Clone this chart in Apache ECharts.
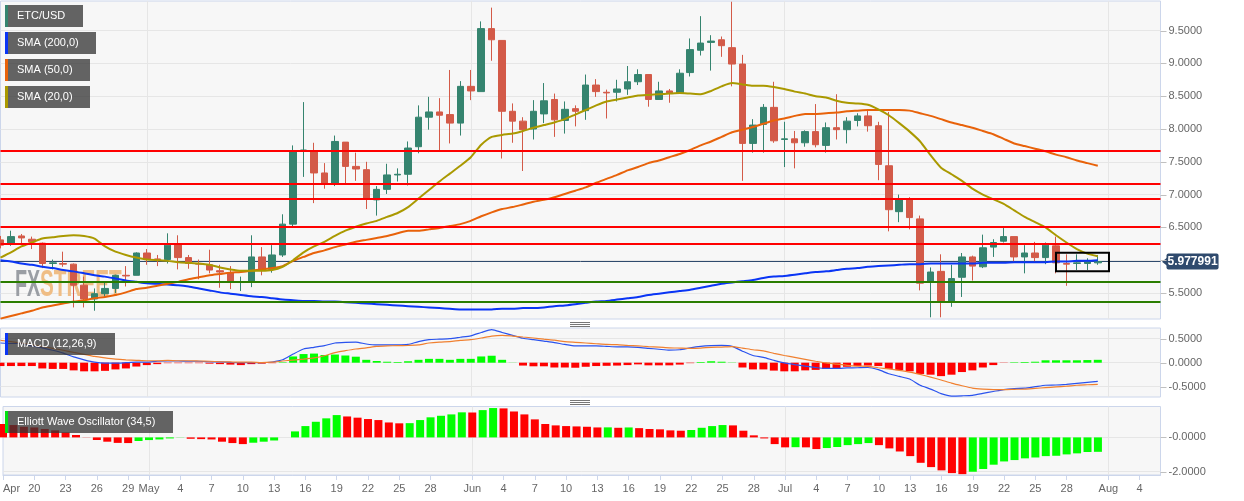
<!DOCTYPE html>
<html>
<head>
<meta charset="utf-8">
<title>ETC/USD</title>
<script src="https://cdn.jsdelivr.net/npm/echarts@6/dist/echarts.min.js"></script>
<style>
    html, body { margin: 0; padding: 0; background: #fff; }
    #mainChart { width: 1244px; height: 501px; }
</style>
</head>
<body>
<div id="mainChart"></div>
<script>
// one row per day starting 17 Apr: [open, close, low, high]
const candles = [
    [6.31,6.23,6.18,6.37],[6.26,6.36,6.22,6.45],[6.37,6.34,6.26,6.40],[6.32,6.28,6.17,6.36],[6.26,5.95,5.88,6.27],
    [5.95,5.96,5.86,6.01],[5.95,5.94,5.90,6.13],[5.94,5.62,5.28,5.95],[5.62,5.41,5.28,5.75],[5.41,5.49,5.23,5.57],
    [5.49,5.57,5.44,5.66],[5.57,5.77,5.50,5.78],[5.77,5.76,5.60,5.91],[5.77,6.11,5.77,6.12],[6.11,6.02,5.93,6.17],
    [6.02,6.01,5.91,6.08],[6.01,6.23,5.95,6.41],[6.24,6.04,5.86,6.38],[6.04,5.95,5.87,6.08],[5.95,5.94,5.71,6.01],
    [5.93,5.85,5.80,6.16],[5.84,5.82,5.58,5.93],[5.81,5.66,5.56,5.91],[5.66,5.67,5.53,5.75],[5.67,6.05,5.59,6.38],
    [6.05,5.85,5.77,6.20],[5.86,6.08,5.81,6.23],[6.08,6.55,6.05,6.70],[6.55,7.66,6.52,7.75],[7.66,7.68,7.27,8.41],
    [7.65,7.33,6.87,7.79],[7.33,7.16,7.09,7.48],[7.17,7.81,7.13,7.90],[7.80,7.43,7.17,7.80],[7.43,7.39,7.21,7.64],
    [7.38,6.94,6.78,7.50],[6.92,7.08,6.68,7.13],[7.08,7.30,7.01,7.47],[7.30,7.31,7.20,7.40],[7.31,7.71,7.14,7.81],
    [7.73,8.18,7.63,8.36],[8.18,8.26,7.99,8.49],[8.26,8.21,7.68,8.47],[8.22,8.09,7.78,8.90],[8.09,8.65,7.90,8.73],
    [8.65,8.58,8.44,8.90],[8.57,9.53,8.57,9.64],[9.53,9.36,9.04,9.85],[9.35,8.27,7.55,9.35],[8.27,8.12,7.79,8.39],
    [8.12,7.99,7.36,8.18],[8.00,8.27,7.84,8.44],[8.23,8.43,8.09,8.70],[8.45,8.14,7.88,8.54],[8.13,8.30,7.93,8.42],
    [8.31,8.27,8.04,8.36],[8.28,8.67,8.14,8.83],[8.67,8.57,8.49,8.76],[8.56,8.55,8.16,8.60],[8.56,8.61,8.42,8.75],
    [8.61,8.72,8.52,8.96],[8.72,8.83,8.67,8.91],[8.83,8.45,8.34,8.83],[8.45,8.58,8.45,8.72],[8.58,8.55,8.40,8.61],
    [8.55,8.85,8.55,8.91],[8.86,9.21,8.80,9.38],[9.20,9.31,9.12,9.72],[9.32,9.34,8.89,9.43],[9.36,9.27,9.10,9.41],
    [9.24,8.99,8.65,9.94],[8.99,7.78,7.21,9.13],[7.78,8.06,7.64,8.15],[8.07,8.33,7.64,8.38],[8.33,7.82,7.79,8.72],
    [7.84,7.85,7.42,8.11],[7.85,7.79,7.40,7.97],[7.79,7.96,7.73,7.98],[7.96,7.76,7.72,8.38],[7.75,8.02,7.64,8.10],
    [8.02,7.99,7.84,8.53],[7.99,8.12,7.78,8.18],[8.13,8.20,8.04,8.24],[8.20,8.05,7.96,8.30],[8.05,7.46,7.22,8.11],
    [7.44,6.77,6.44,8.26],[6.74,6.92,6.58,7.00],[6.93,6.65,6.47,6.96],[6.63,5.65,5.54,6.68],[5.66,5.82,5.13,5.89],
    [5.83,5.37,5.13,6.09],[5.37,5.72,5.29,5.93],[5.74,6.05,5.44,6.11],[6.05,5.91,5.69,6.07],[5.90,6.19,5.88,6.39],
    [6.20,6.27,6.05,6.32],[6.29,6.36,6.27,6.49],[6.36,6.05,5.98,6.36],[6.05,6.11,5.80,6.23],[6.11,6.04,5.98,6.28],
    [6.04,6.23,5.94,6.27],[6.22,5.96,5.80,6.36],[5.95,5.94,5.61,6.09],[5.95,5.96,5.85,6.09],[5.95,5.98,5.85,6.03],
    [5.96,5.98,5.93,6.08]
];
const sma200 = [
    6.00,5.98,5.95,5.93,5.90,5.88,5.85,5.83,5.80,5.77,5.75,5.72,5.69,5.67,5.65,5.64,5.63,5.62,5.60,5.57,
    5.54,5.51,5.49,5.47,5.45,5.44,5.42,5.40,5.39,5.38,5.38,5.37,5.37,5.36,5.35,5.34,5.33,5.32,5.31,5.30,
    5.29,5.28,5.27,5.26,5.25,5.25,5.25,5.25,5.26,5.26,5.27,5.27,5.28,5.30,5.31,5.33,5.35,5.37,5.38,5.40,
    5.42,5.44,5.47,5.49,5.51,5.53,5.55,5.58,5.61,5.64,5.66,5.68,5.70,5.73,5.75,5.76,5.78,5.80,5.82,5.83,
    5.85,5.87,5.88,5.90,5.91,5.92,5.93,5.94,5.94,5.95,5.95,5.95,5.95,5.95,5.96,5.96,5.96,5.97,5.97,5.97,
    5.97,5.98,5.98,5.99,5.99,6.00
];
const sma50 = [
    5.11,5.15,5.19,5.23,5.28,5.31,5.34,5.37,5.39,5.42,5.44,5.47,5.51,5.56,5.58,5.61,5.64,5.67,5.71,5.74,
    5.77,5.79,5.81,5.82,5.84,5.86,5.88,5.91,5.99,6.05,6.11,6.15,6.20,6.24,6.28,6.31,6.34,6.37,6.41,6.45,
    6.45,6.47,6.49,6.52,6.55,6.60,6.67,6.73,6.78,6.81,6.85,6.89,6.92,6.96,7.01,7.06,7.11,7.18,7.24,7.30,
    7.37,7.42,7.48,7.52,7.57,7.62,7.68,7.75,7.81,7.88,7.95,7.99,8.03,8.08,8.13,8.16,8.20,8.23,8.23,8.24,
    8.25,8.27,8.28,8.29,8.29,8.29,8.29,8.28,8.24,8.20,8.15,8.10,8.06,8.02,7.97,7.92,7.85,7.78,7.74,7.70,
    7.66,7.61,7.57,7.52,7.48,7.44
];
const sma20 = [
    6.04,6.12,6.21,6.27,6.33,6.35,6.37,6.38,6.37,6.33,6.21,6.13,6.08,6.04,6.01,6.00,5.99,5.97,5.96,5.95,
    5.93,5.89,5.86,5.84,5.84,5.84,5.85,5.90,6.00,6.12,6.21,6.28,6.37,6.45,6.51,6.56,6.60,6.66,6.72,6.81,
    6.94,7.07,7.20,7.32,7.44,7.57,7.76,7.88,7.91,7.93,7.97,8.02,8.06,8.10,8.15,8.22,8.29,8.36,8.42,8.45,
    8.48,8.51,8.52,8.53,8.54,8.55,8.54,8.53,8.58,8.65,8.70,8.68,8.66,8.66,8.64,8.61,8.57,8.54,8.50,8.48,
    8.43,8.40,8.39,8.37,8.30,8.21,8.09,7.96,7.81,7.60,7.41,7.31,7.21,7.09,7.00,6.93,6.86,6.76,6.66,6.58,
    6.50,6.38,6.27,6.17,6.10,6.06
];
const macdLine = [
    0.41,0.40,0.40,0.35,0.31,0.26,0.20,0.12,0.06,0.01,-0.01,-0.01,0.00,0.01,0.01,0.03,0.035,0.035,0.03,0.03,
    0.02,0.015,0.005,0.00,0.00,0.00,0.015,0.06,0.18,0.285,0.32,0.355,0.41,0.425,0.43,0.39,0.37,0.37,0.37,0.38,
    0.44,0.48,0.49,0.50,0.53,0.56,0.63,0.69,0.63,0.57,0.51,0.48,0.45,0.42,0.38,0.35,0.35,0.35,0.34,0.33,
    0.33,0.32,0.30,0.28,0.26,0.27,0.31,0.34,0.355,0.36,0.34,0.24,0.15,0.11,0.05,-0.005,-0.04,-0.07,-0.10,-0.12,
    -0.12,-0.11,-0.105,-0.10,-0.145,-0.23,-0.285,-0.34,-0.47,-0.55,-0.645,-0.695,-0.69,-0.68,-0.64,-0.60,-0.56,-0.54,-0.53,-0.50,
    -0.47,-0.465,-0.45,-0.43,-0.41,-0.39
];
const macdSignal = [
    0.465,0.44,0.41,0.375,0.34,0.30,0.26,0.215,0.175,0.13,0.10,0.075,0.06,0.05,0.04,0.04,0.05,0.04,0.04,0.035,
    0.03,0.02,0.015,0.01,0.01,0.00,0.01,0.035,0.055,0.075,0.10,0.145,0.21,0.25,0.285,0.31,0.34,0.35,0.355,0.36,
    0.37,0.41,0.43,0.44,0.465,0.48,0.515,0.555,0.57,0.555,0.535,0.515,0.49,0.47,0.44,0.425,0.41,0.395,0.38,0.375,
    0.36,0.35,0.335,0.325,0.31,0.305,0.30,0.305,0.32,0.325,0.335,0.305,0.27,0.245,0.195,0.15,0.11,0.07,0.03,-0.005,
    -0.03,-0.055,-0.07,-0.075,-0.105,-0.13,-0.16,-0.195,-0.245,-0.30,-0.36,-0.425,-0.48,-0.53,-0.55,-0.56,-0.56,-0.555,-0.55,-0.535,
    -0.52,-0.505,-0.49,-0.47,-0.46,-0.45
];
const macdHist = [
    -0.07,-0.07,-0.07,-0.07,-0.12,-0.13,-0.13,-0.16,-0.18,-0.18,-0.17,-0.14,-0.12,-0.08,-0.05,-0.03,-0.01,-0.01,-0.01,-0.01,
    -0.02,-0.03,-0.04,-0.05,-0.03,-0.02,-0.01,0.01,0.13,0.18,0.19,0.16,0.17,0.15,0.125,0.06,0.035,0.02,0.015,0.03,
    0.06,0.08,0.08,0.06,0.08,0.08,0.13,0.145,0.06,0.003,-0.06,-0.075,-0.075,-0.10,-0.10,-0.105,-0.085,-0.07,-0.065,-0.06,
    -0.05,-0.035,-0.055,-0.055,-0.055,-0.04,-0.01,0.015,0.03,0.02,0.005,-0.10,-0.14,-0.14,-0.165,-0.18,-0.18,-0.16,-0.15,-0.13,
    -0.12,-0.085,-0.07,-0.06,-0.07,-0.13,-0.155,-0.18,-0.235,-0.25,-0.28,-0.25,-0.195,-0.16,-0.10,-0.05,-0.005,0.01,0.015,0.02,
    0.05,0.05,0.05,0.05,0.055,0.06
];
const ewoValues = [
    0.78,0.72,0.62,0.58,0.49,0.41,0.29,0.14,-0.01,-0.15,-0.25,-0.32,-0.33,-0.21,-0.155,-0.12,-0.06,-0.01,-0.08,-0.10,
    -0.12,-0.25,-0.33,-0.39,-0.31,-0.25,-0.18,0.00,0.35,0.66,0.91,1.11,1.30,1.22,1.15,1.07,1.01,0.87,0.82,0.83,
    1.01,1.17,1.26,1.34,1.46,1.45,1.59,1.71,1.69,1.51,1.34,1.05,0.78,0.70,0.66,0.64,0.62,0.58,0.585,0.56,
    0.58,0.54,0.49,0.47,0.41,0.39,0.43,0.56,0.66,0.72,0.70,0.39,0.12,-0.06,-0.39,-0.58,-0.57,-0.58,-0.68,-0.62,
    -0.56,-0.45,-0.39,-0.33,-0.45,-0.64,-0.82,-1.09,-1.48,-1.73,-1.92,-2.08,-2.14,-2.00,-1.84,-1.59,-1.40,-1.32,-1.22,-1.17,
    -1.09,-1.07,-0.99,-0.93,-0.85,-0.84
];
// horizontal support and resistance levels
const redLevels = [7.665, 7.166, 6.933, 6.506, 6.247];
const greenLevels = [5.668, 5.363];
const lastPrice = 5.977991;
// day numbers of the axis labels, same order as tickLabels
const tickDays = [0,3,6,9,12,14,17,20,23,26,29,32,35,38,41,45,48,51,54,57,60,63,66,69,72,75,78,81,84,87,90,93,96,99,102,106,109];
const tickLabels = ['Apr','20','23','26','29','May','4','7','10','13','16','19','22','25','28','Jun','4','7','10','13','16','19','22','25','28','Jul','4','7','10','13','16','19','22','25','28','Aug','4'];
const monthDays = [14, 45, 75, 106];
const priceTicks = [5.5, 6, 6.5, 7, 7.5, 8, 8.5, 9, 9.5];
const macdTicks = [-0.5, 0, 0.5];
const ewoTicks = [-2, 0];
// the box around the last few days
const boxDays = [101, 106.07];
const boxPrices = [5.83, 6.114];

const fontName = '"Liberation Sans", Arial, sans-serif';
const gridColor = '#e6e6e6';
const frameColor = '#ccd6eb';

function xAxisFor(gridIndex, showLabels) {
    return {
        type: 'value',
        gridIndex: gridIndex,
        min: 0,
        max: 111,
        axisLine: {show: showLabels, onZero: false, lineStyle: {color: frameColor}},
        splitLine: {show: false},
        axisTick: {show: showLabels, length: 5, customValues: tickDays, lineStyle: {color: frameColor}},
        axisLabel: {
            show: showLabels,
            customValues: tickDays,
            alignMinLabel: 'left',
            margin: 8,
            color: '#666',
            fontSize: 11,
            fontFamily: fontName,
            formatter: function (value) {
                return tickLabels[tickDays.indexOf(value)];
            }
        }
    };
}

function yAxisFor(gridIndex, min, max, ticks, formatter) {
    return {
        type: 'value',
        gridIndex: gridIndex,
        position: 'right',
        min: min,
        max: max,
        axisLine: {show: false},
        splitLine: {show: true, lineStyle: {color: gridColor, width: 1}},
        // the ticks themselves are added after init, see axisTickMarks
        axisTick: {show: false, customValues: ticks},
        axisLabel: {
            customValues: ticks,
            margin: 8,
            padding: [2, 0, 0, 0],
            color: '#666',
            fontSize: 11,
            fontFamily: fontName,
            formatter: formatter
        }
    };
}

function withDays(values) {
    return values.map(function (v, i) {
        return [i, v];
    });
}

function lineSeries(name, values, color, width, axisIndex) {
    return {
        name: name,
        type: 'line',
        xAxisIndex: axisIndex,
        yAxisIndex: axisIndex,
        data: withDays(values),
        showSymbol: false,
        smooth: 0.2,
        silent: true,
        z: 3,
        lineStyle: {color: color, width: width}
    };
}

// empty series that only carries the light month lines of a panel
function monthLines(axisIndex) {
    return {
        type: 'line',
        xAxisIndex: axisIndex,
        yAxisIndex: axisIndex,
        data: [],
        z: 1,
        markLine: {
            z: 1,
            silent: true,
            symbol: 'none',
            label: {show: false},
            lineStyle: {color: gridColor, width: 1, type: 'solid'},
            data: monthDays.map(function (d) {
                return {xAxis: d};
            })
        }
    };
}

function levelData(levels) {
    return levels.map(function (v) {
        return {yAxis: v};
    });
}

function levelLines(levels, color) {
    return {
        type: 'line',
        data: [],
        z: 4,
        markLine: {
            z: 4,
            silent: true,
            symbol: 'none',
            label: {show: false},
            lineStyle: {color: color, width: 2, type: 'solid'},
            data: levelData(levels)
        }
    };
}

function legendBox(label, barColor, top, width) {
    return {
        type: 'group',
        x: 5,
        y: top,
        children: [
            {type: 'rect', z: 20, shape: {x: 3, y: 0, width: width - 3, height: 22}, style: {fill: 'rgba(51,51,51,0.755)'}},
            {type: 'rect', z: 20, shape: {x: 0, y: 0, width: 3, height: 22}, style: {fill: barColor}},
            {
                type: 'text',
                z: 21,
                x: 12,
                y: 11,
                style: {text: label, fill: '#fff', font: '11px ' + fontName, verticalAlign: 'middle'}
            }
        ]
    };
}

function dragHandle(top) {
    return {
        type: 'group',
        x: 570,
        y: top,
        children: [0, 2, 4].map(function (dy) {
            return {type: 'rect', z: 20, shape: {x: 0, y: dy, width: 20, height: 1}, style: {fill: '#777'}};
        })
    };
}

const chartGraphics = [
    legendBox('ETC/USD', '#35846f', 5, 78),
    legendBox('SMA (200,0)', '#0a35f5', 32, 91),
    legendBox('SMA (50,0)', '#e8620a', 59, 85),
    legendBox('SMA (20,0)', '#aa9900', 86, 85),
    legendBox('MACD (12,26,9)', '#0a35f5', 333, 110),
    legendBox('Elliott Wave Oscillator (34,5)', '#00e010', 411, 168),
    dragHandle(322),
    dragHandle(400),
    {
        type: 'text',
        x: 15,
        y: 286,
        scaleX: 0.55,
        z: 1,
        style: {text: 'FX', fill: '#9a9ea4', font: 'bold 36px ' + fontName, verticalAlign: 'middle'}
    },
    {
        type: 'text',
        x: 40,
        y: 286,
        scaleX: 0.575,
        z: 1,
        style: {text: 'STREET', fill: '#efbd85', font: 'bold 36px ' + fontName, verticalAlign: 'middle'}
    }
];

const option = {
    animation: false,
    backgroundColor: '#fff',
    grid: [
        {left: 0.5, width: 1160, top: 1, height: 318},
        {left: 0.5, width: 1160, top: 328, height: 69},
        {left: 0.5, width: 1160, top: 406.5, height: 68.5}
    ].map(function (g) {
        return Object.assign(g, {show: true, backgroundColor: '#f7f7f7', borderColor: frameColor, borderWidth: 1});
    }),
    xAxis: [xAxisFor(0, false), xAxisFor(1, false), xAxisFor(2, true)],
    yAxis: [
        yAxisFor(0, 5.104, 9.951, priceTicks, function (v) {
            return v.toFixed(4);
        }),
        yAxisFor(1, -0.715, 0.723, macdTicks, function (v) {
            return v.toFixed(4);
        }),
        yAxisFor(2, -2.19, 1.8, ewoTicks, function (v) {
            return v === 0 ? '-0.0000' : v.toFixed(4);
        })
    ],
    graphic: {elements: chartGraphics},
    series: [
        monthLines(0),
        monthLines(1),
        monthLines(2),
        {
            name: 'ETC/USD',
            type: 'candlestick',
            data: candles.map(function (c, i) {
                return [i].concat(c);
            }),
            encode: {x: 0, y: [1, 2, 3, 4]},
            barWidth: 7,
            silent: true,
            z: 2,
            itemStyle: {
                color: '#35846f',
                color0: '#d35a48',
                borderColor: '#35846f',
                borderColor0: '#d35a48',
                borderColorDoji: '#35846f',
                borderWidth: 1
            }
        },
        {
            // thin line at the last price with its flag on the axis
            type: 'line',
            data: [],
            z: 2,
            markLine: {
                z: 2,
                silent: true,
                symbol: 'none',
                lineStyle: {color: '#2f4a6d', width: 1, type: 'solid'},
                label: {
                    show: true,
                    position: 'end',
                    distance: 6,
                    formatter: lastPrice.toFixed(6),
                    color: '#fff',
                    fontWeight: 'bold',
                    fontSize: 12,
                    fontFamily: fontName,
                    backgroundColor: '#2f4a6d',
                    padding: [2, 1, 2, 1],
                    borderRadius: 2
                },
                data: [{yAxis: lastPrice}]
            },
            markPoint: {
                silent: true,
                symbol: 'triangle',
                symbolRotate: 90,
                symbolSize: [8, 5],
                symbolOffset: [4, 0],
                itemStyle: {color: '#2f4a6d'},
                label: {show: false},
                data: [{coord: [111, lastPrice]}]
            }
        },
        lineSeries('SMA (200,0)', sma200, '#0a35f5', 2, 0),
        lineSeries('SMA (50,0)', sma50, '#e8620a', 2, 0),
        lineSeries('SMA (20,0)', sma20, '#aa9900', 2, 0),
        levelLines(redLevels, '#ff0000'),
        levelLines(greenLevels, '#2a7d00'),
        {
            // the black box around the last days
            type: 'line',
            data: [],
            z: 5,
            markArea: {
                z: 5,
                silent: true,
                label: {show: false},
                itemStyle: {color: 'rgba(0,0,0,0)', borderColor: '#000', borderWidth: 2},
                data: [[
                    {xAxis: boxDays[0], yAxis: boxPrices[0]},
                    {xAxis: boxDays[1], yAxis: boxPrices[1]}
                ]]
            }
        },
        {
            name: 'MACD hist',
            type: 'bar',
            xAxisIndex: 1,
            yAxisIndex: 1,
            data: withDays(macdHist),
            barWidth: 8,
            silent: true,
            z: 2,
            itemStyle: {
                color: function (p) {
                    return p.value[1] < 0 ? '#ff0000' : '#00ff00';
                }
            }
        },
        lineSeries('MACD', macdLine, '#2a53ee', 1.2, 1),
        lineSeries('Signal', macdSignal, '#f08030', 1.2, 1),
        {
            name: 'Elliott Wave Oscillator',
            type: 'bar',
            xAxisIndex: 2,
            yAxisIndex: 2,
            data: withDays(ewoValues),
            barWidth: 8,
            silent: true,
            z: 2,
            itemStyle: {
                // green when the value rose from the day before
                color: function (p) {
                    const i = p.dataIndex;
                    return i > 0 && ewoValues[i] > ewoValues[i - 1] ? '#00ff00' : '#ff0000';
                }
            }
        }
    ]
};

const myChart = echarts.init(document.getElementById('mainChart'));
myChart.setOption(option);

// short ticks on the right of each panel, placed through the chart's own y scales
function axisTickMarks(ticks, axisIndex) {
    return ticks.map(function (v) {
        const y = Math.round(myChart.convertToPixel({yAxisIndex: axisIndex}, v)) + 0.5;
        return {
            type: 'line',
            z: 20,
            shape: {x1: 1160.5, y1: y, x2: 1166.5, y2: y},
            style: {stroke: '#c0c0c0', lineWidth: 1}
        };
    });
}

myChart.setOption({
    graphic: {
        elements: chartGraphics.concat(
            axisTickMarks(priceTicks, 0),
            axisTickMarks(macdTicks, 1),
            axisTickMarks(ewoTicks, 2)
        )
    }
});
</script>
</body>
</html>
